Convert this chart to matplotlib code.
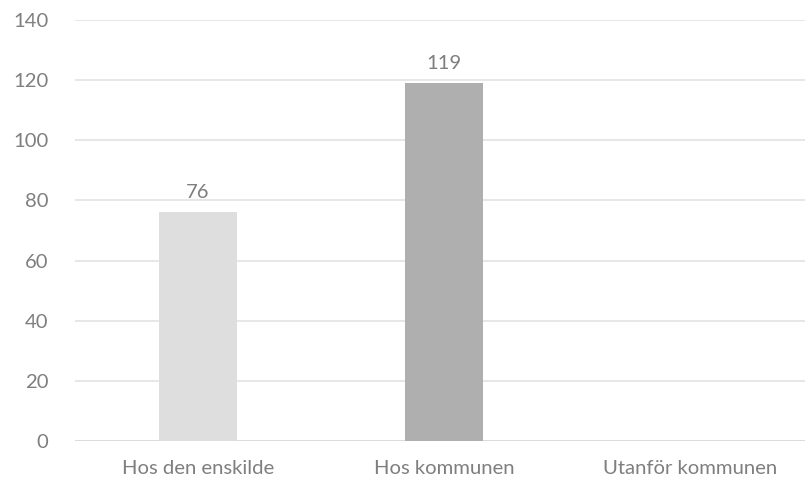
import matplotlib
matplotlib.use("Agg")
import matplotlib.pyplot as plt

categories = ["Hos den enskilde", "Hos kommunen", "Utanför kommunen"]
values = [76, 119, 0]
colors = ["#dedede", "#afafaf", "#afafaf"]
yticks = [0, 20, 40, 60, 80, 100, 120, 140]

plt.rcParams['font.family'] = ['Lato', 'DejaVu Sans']
txt = "#7f7f7f"
fs = 14.6

fig = plt.figure(figsize=(8.05, 4.91), dpi=100)
ax = fig.add_axes([75/805, 50/491, 738/805, 421/491])
x = list(range(len(categories)))
for i, (v, c) in enumerate(zip(values, colors)):
    if v > 0:
        ax.bar(i, v, width=0.317, color=c, zorder=3)
        ax.annotate(str(v), (i, v), xytext=(0, 8), textcoords="offset points",
                    ha="center", va="bottom", fontsize=fs, color=txt)
ax.set_xlim(-0.5, 2.5)
ax.set_ylim(0, 140)
ax.set_yticks(yticks)
ax.set_xticks(x)
ax.set_xticklabels(categories)
ax.grid(axis="y", color="#e3e3e3", linewidth=1.2, zorder=0)
ax.tick_params(axis="both", length=0, labelsize=fs, labelcolor=txt)
ax.tick_params(axis="y", pad=19)
ax.tick_params(axis="x", pad=14)
for s in ax.spines.values():
    s.set_visible(False)
ax.axhline(0, color="#d9d9d9", linewidth=1.2, zorder=2)
fig.savefig("out.png", dpi=100)
